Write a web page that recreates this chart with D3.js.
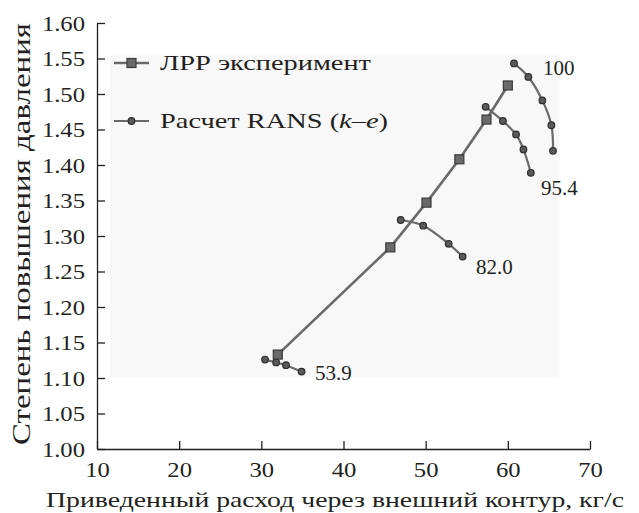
<!DOCTYPE html>
<html>
<head>
<meta charset="utf-8">
<script src="https://cdn.jsdelivr.net/npm/d3@7"></script>
<style>
  html, body { margin: 0; padding: 0; background: #fff; }
  svg { display: block; }
  svg text { font-family: "Liberation Serif", "Times New Roman", Tinos, "DejaVu Serif", "Noto Serif", serif; }
</style>
</head>
<body>
<svg id="chart" width="639" height="513"></svg>
<script>
// Experimental characteristic (flow, pressure ratio)
const expFlow  = [32.0, 45.7, 50.1, 54.1, 57.4, 60.0];
const expRatio = [1.133, 1.284, 1.347, 1.408, 1.464, 1.512];

// RANS (k–e) speed lines, labelled by relative speed
const ransLabels = ["100", "95.4", "82.0", "53.9"];
const ransFlow = [
  [60.75, 62.5, 64.2, 65.3, 65.5],
  [57.3, 59.4, 61.0, 61.9, 62.8],
  [46.96, 49.7, 52.8, 54.5],
  [30.45, 31.8, 33.0, 34.9]
];
const ransRatio = [
  [1.543, 1.524, 1.491, 1.456, 1.420],
  [1.482, 1.462, 1.443, 1.422, 1.389],
  [1.3225, 1.3145, 1.289, 1.271],
  [1.126, 1.122, 1.118, 1.109]
];

const xTicks = [10, 20, 30, 40, 50, 60, 70];
const yTicks = [1.00, 1.05, 1.10, 1.15, 1.20, 1.25, 1.30, 1.35, 1.40, 1.45, 1.50, 1.55, 1.60];

const legendNames = ["ЛРР эксперимент", "Расчет RANS ("];
const xTitle = "Приведенный расход через внешний контур, кг/с";
const yTitle = "Степень повышения давления";

const svg = d3.select("#chart");
const x = d3.scaleLinear().domain([10, 70]).range([97, 590]);
const y = d3.scaleLinear().domain([1.0, 1.6]).range([449, 23]);

const ink = "#231f20";
const lineCol = "#6a6a6a";
const markFill = "#5a5a5a";
const markStroke = "#2e2e2e";

// stretch a text element horizontally by a factor via textLength
function widen(sel, k) {
  sel.each(function () {
    const w = this.getComputedTextLength();
    d3.select(this).attr("textLength", w * k).attr("lengthAdjust", "spacingAndGlyphs");
  });
}

// faint shaded field behind the curves
svg.append("rect")
  .attr("x", x(11.6)).attr("y", y(1.555))
  .attr("width", x(66.3) - x(11.6)).attr("height", y(1.101) - y(1.555))
  .attr("fill", "#f8f8f8");

// axes
const xAxis = d3.axisBottom(x).tickValues(xTicks).tickFormat(d3.format("d"))
  .tickSize(-8).tickSizeOuter(0).tickPadding(12);
const yAxis = d3.axisLeft(y).tickValues(yTicks).tickFormat(d3.format(".2f"))
  .tickSize(-8).tickSizeOuter(0).tickPadding(12);

const gx = svg.append("g").attr("transform", `translate(0,${y(1.0)})`).call(xAxis);
const gy = svg.append("g").attr("transform", `translate(${x(10)},0)`).call(yAxis);
[gx, gy].forEach(g => {
  g.attr("font-family", null);
  g.select(".domain").attr("stroke", ink).attr("stroke-width", 1.3);
  g.selectAll(".tick line").attr("stroke", ink).attr("stroke-width", 1.3);
  g.selectAll(".tick text").attr("fill", ink).style("font-size", "22px");
});
widen(gx.selectAll(".tick text"), 1.12);
widen(gy.selectAll(".tick text"), 1.12);

// axis titles
svg.append("text")
  .attr("x", 335).attr("y", 507)
  .attr("text-anchor", "middle").attr("fill", ink)
  .attr("textLength", 578).attr("lengthAdjust", "spacingAndGlyphs")
  .style("font-size", "22px").text(xTitle);
svg.append("text")
  .attr("transform", `translate(30,${(y(1.0) + y(1.6)) / 2 - 2}) rotate(-90)`)
  .attr("text-anchor", "middle").attr("fill", ink)
  .attr("textLength", 422).attr("lengthAdjust", "spacingAndGlyphs")
  .style("font-size", "26px").text(yTitle);

// RANS speed lines
const smooth = d3.line().x(d => x(d[0])).y(d => y(d[1])).curve(d3.curveCatmullRom.alpha(0.5));
ransFlow.forEach((fl, i) => {
  const pts = fl.map((f, j) => [f, ransRatio[i][j]]);
  svg.append("path").datum(pts).attr("d", smooth)
    .attr("fill", "none").attr("stroke", lineCol).attr("stroke-width", 2.2);
  svg.selectAll(null).data(pts).enter().append("circle")
    .attr("cx", d => x(d[0])).attr("cy", d => y(d[1])).attr("r", 3.3)
    .attr("fill", markFill).attr("stroke", markStroke).attr("stroke-width", 1.2);
});

// experiment line
const expPts = expFlow.map((f, i) => [f, expRatio[i]]);
const straight = d3.line().x(d => x(d[0])).y(d => y(d[1]));
svg.append("path").datum(expPts).attr("d", straight)
  .attr("fill", "none").attr("stroke", lineCol).attr("stroke-width", 2.6);
svg.selectAll(null).data(expPts).enter().append("rect")
  .attr("x", d => x(d[0]) - 4.5).attr("y", d => y(d[1]) - 4.5)
  .attr("width", 9).attr("height", 9)
  .attr("fill", "#6a6a6a").attr("stroke", "#3a3a3a").attr("stroke-width", 1.2);

// speed line labels
const labelPos = [
  { ax: 543, ay: 75 },
  { ax: 541, ay: 195 },
  { ax: 476, ay: 274 },
  { ax: 315, ay: 380 }
];
ransLabels.forEach((t, i) => {
  svg.append("text").attr("x", labelPos[i].ax).attr("y", labelPos[i].ay)
    .attr("fill", ink).style("font-size", "21px").text(t);
});

// legend
const lg = svg.append("g");
lg.append("line").attr("x1", 114).attr("x2", 149).attr("y1", 63).attr("y2", 63)
  .attr("stroke", lineCol).attr("stroke-width", 2.6);
lg.append("rect").attr("x", 127).attr("y", 58.5).attr("width", 9).attr("height", 9)
  .attr("fill", "#6a6a6a").attr("stroke", "#3a3a3a").attr("stroke-width", 1.2);
lg.append("text").attr("x", 160).attr("y", 70).attr("fill", ink)
  .attr("textLength", 211).attr("lengthAdjust", "spacingAndGlyphs")
  .style("font-size", "21px").text(legendNames[0]);
lg.append("line").attr("x1", 114).attr("x2", 149).attr("y1", 121).attr("y2", 121)
  .attr("stroke", lineCol).attr("stroke-width", 2.2);
lg.append("circle").attr("cx", 131.5).attr("cy", 121).attr("r", 3.3)
  .attr("fill", markFill).attr("stroke", markStroke).attr("stroke-width", 1.2);
const t2 = lg.append("text").attr("x", 160).attr("y", 128).attr("fill", ink)
  .style("font-size", "21px");
t2.append("tspan").text(legendNames[1]);
t2.append("tspan").style("font-style", "italic").text("k");
t2.append("tspan").text("–");
t2.append("tspan").style("font-style", "italic").text("e");
t2.append("tspan").text(")");
widen(t2, 228 / t2.node().getComputedTextLength());
</script>
</body>
</html>
